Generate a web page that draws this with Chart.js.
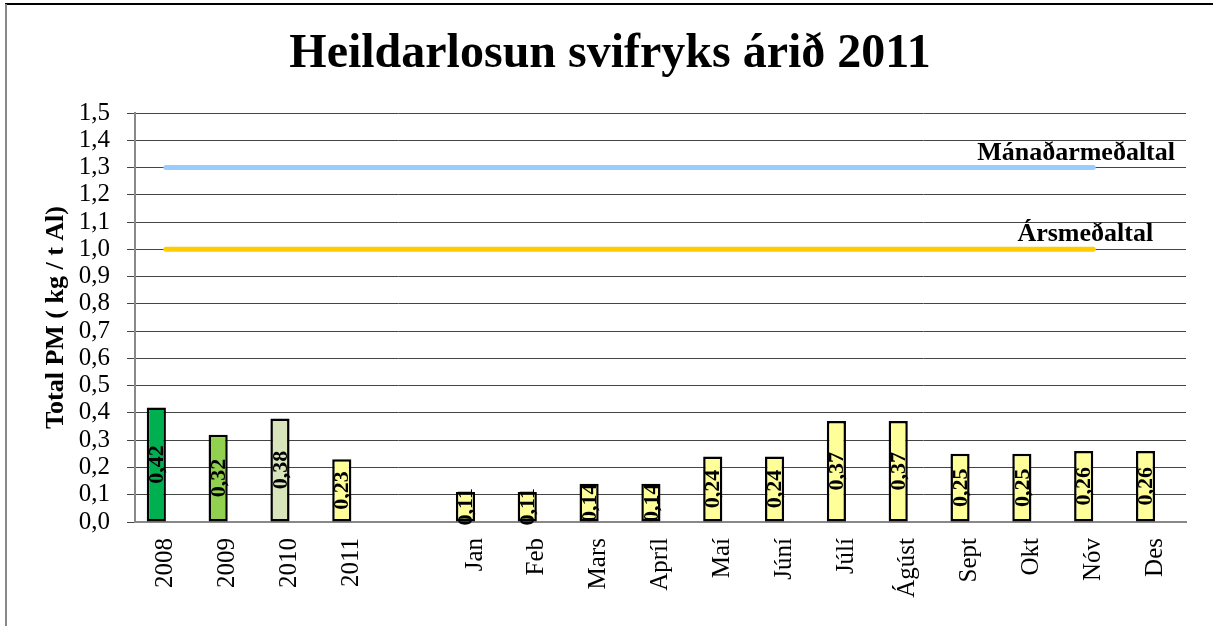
<!DOCTYPE html>
<html>
<head>
<meta charset="utf-8">
<script src="https://cdn.jsdelivr.net/npm/chart.js@4"></script>
<style>
  html, body { margin: 0; padding: 0; background: #fff; }
  canvas { display: block; }
</style>
</head>
<body>
<canvas id="chart" width="1213" height="626"></canvas>
<script>
// Data
const categories = ["2008", "2009", "2010", "2011", "", "Jan", "Feb", "Mars", "Apríl", "Maí", "Júní", "Júlí", "Ágúst", "Sept", "Okt", "Nóv", "Des"];
const pmValues = [0.42, 0.32, 0.38, 0.23, null, 0.11, 0.11, 0.14, 0.14, 0.24, 0.24, 0.37, 0.37, 0.25, 0.25, 0.26, 0.26];
const monthlyAvg = [1.3, 1.3, 1.3, 1.3, 1.3, 1.3, 1.3, 1.3, 1.3, 1.3, 1.3, 1.3, 1.3, 1.3, 1.3, 1.3, null];
const yearlyAvg = [1.0, 1.0, 1.0, 1.0, 1.0, 1.0, 1.0, 1.0, 1.0, 1.0, 1.0, 1.0, 1.0, 1.0, 1.0, 1.0, null];
const yTicks = { min: 0, max: 1.5, step: 0.1 };

const barColors = ["#00B050", "#92D050", "#D8E4BC", "#FFFF99", "#FFFF99", "#FFFF99", "#FFFF99", "#FFFF99", "#FFFF99",
    "#FFFF99", "#FFFF99", "#FFFF99", "#FFFF99", "#FFFF99", "#FFFF99", "#FFFF99", "#FFFF99"];

const serif = '"Liberation Serif", "Times New Roman", serif';
Chart.defaults.font.family = serif;
Chart.defaults.color = "#000";

const comma = v => v.toFixed(1).replace(".", ",");

// outer frame like the original sheet
const framePlugin = {
    id: "frame",
    beforeDraw(chart) {
        const ctx = chart.ctx;
        ctx.save();
        ctx.fillStyle = "#fff";
        ctx.fillRect(0, 0, chart.width, chart.height);
        ctx.strokeStyle = "#000";
        ctx.lineWidth = 2;
        ctx.beginPath();
        ctx.moveTo(5, 4);
        ctx.lineTo(chart.width, 4);
        ctx.stroke();
        ctx.strokeStyle = "#888";
        ctx.beginPath();
        ctx.moveTo(6, 4);
        ctx.lineTo(6, chart.height);
        ctx.stroke();
        ctx.restore();
    }
};

// value labels in bars, names on the lines
const labelPlugin = {
    id: "labels",
    afterDatasetsDraw(chart) {
        const ctx = chart.ctx;
        const area = chart.chartArea;
        ctx.save();
        ctx.fillStyle = "#000";

        // bar values, rotated
        const barMeta = chart.getDatasetMeta(0);
        ctx.font = "bold 22px " + serif;
        ctx.textAlign = "center";
        ctx.textBaseline = "middle";
        barMeta.data.forEach((bar, i) => {
            const v = pmValues[i];
            if (v == null) return;
            const midY = (bar.y + bar.base) / 2;
            ctx.save();
            ctx.translate(bar.x, midY);
            ctx.rotate(-Math.PI / 2);
            ctx.fillText(v.toFixed(2).replace(".", ","), 0, 1);
            ctx.restore();
        });

        // line names above last point
        ctx.font = "bold 26px " + serif;
        ctx.textBaseline = "alphabetic";
        [2, 3].forEach(di => {
            const meta = chart.getDatasetMeta(di);
            const ds = chart.data.datasets[di];
            let last = null;
            meta.data.forEach((p, i) => { if (ds.data[i] != null) last = p; });
            if (!last) return;
            const w = ctx.measureText(ds.label).width;
            let cx = last.x - 8;
            if (cx + w / 2 > area.right - 11) cx = area.right - 11 - w / 2;
            ctx.textAlign = "center";
            ctx.fillText(ds.label, cx, last.y - 8);
        });
        ctx.restore();
    }
};

new Chart(document.getElementById("chart"), {
    data: {
        labels: categories,
        datasets: [
            {
                type: "bar",
                label: "Total PM",
                data: pmValues,
                backgroundColor: barColors,
                borderColor: "#000",
                borderWidth: 2.5,
                borderSkipped: false,
                categoryPercentage: 0.62,
                barPercentage: 1.0,
                order: 2
            },
            {
                // empty second series keeps the bars left of the category centre
                type: "bar",
                label: "spacer",
                data: categories.map(() => null),
                categoryPercentage: 0.62,
                barPercentage: 1.0,
                order: 3
            },
            {
                type: "line",
                label: "Mánaðarmeðaltal",
                data: monthlyAvg,
                borderColor: "#99CCFF",
                borderWidth: 5,
                borderCapStyle: "round",
                pointRadius: 0,
                spanGaps: false,
                order: 1
            },
            {
                type: "line",
                label: "Ársmeðaltal",
                data: yearlyAvg,
                borderColor: "#FFCC00",
                borderWidth: 5,
                borderCapStyle: "round",
                pointRadius: 0,
                spanGaps: false,
                order: 1
            }
        ]
    },
    options: {
        responsive: false,
        animation: false,
        layout: { padding: { left: 34, right: 27, top: 0, bottom: 0 } },
        plugins: {
            legend: { display: false },
            tooltip: { enabled: false },
            title: {
                display: true,
                text: "Heildarlosun svifryks árið 2011",
                font: { size: 48, weight: "bold", family: serif, lineHeight: 1.2 },
                color: "#000",
                padding: { top: 26, bottom: 29.4 }
            }
        },
        scales: {
            x: {
                offset: true,
                grid: { display: false, drawTicks: false },
                border: { display: true, color: "#888", width: 2 },
                ticks: {
                    autoSkip: false,
                    maxRotation: 90,
                    minRotation: 90,
                    padding: 16,
                    font: { size: 25, family: serif }
                },
                afterFit(scale) { scale.height = 104; }
            },
            y: {
                min: yTicks.min,
                max: yTicks.max,
                grid: { color: "#444", lineWidth: 1, drawTicks: true, tickLength: 8 },
                border: { display: true, color: "#888", width: 2 },
                ticks: {
                    stepSize: yTicks.step,
                    autoSkip: false,
                    padding: 17,
                    font: { size: 25, family: serif, lineHeight: 1 },
                    callback: v => comma(v)
                },
                title: {
                    display: true,
                    text: "Total PM ( kg / t Al)",
                    font: { size: 26, weight: "bold", family: serif, lineHeight: 1.2 },
                    padding: { top: 7, bottom: 0 }
                },
                afterFit(scale) { scale.width = 101; }
            }
        }
    },
    plugins: [framePlugin, labelPlugin]
});
</script>
</body>
</html>
